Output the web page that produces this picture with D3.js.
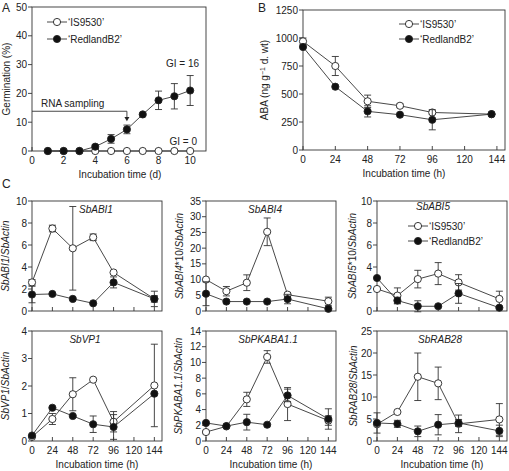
<!DOCTYPE html>
<html><head><meta charset="utf-8">
<script src="https://cdn.jsdelivr.net/npm/d3@7"></script>
<style>body{margin:0;background:#fff}svg{display:block}text{font-family:"Liberation Sans",Arial,sans-serif;fill:#222}</style>
</head><body><svg id="c" width="509" height="471"></svg>
<script>
// ---------- Data ----------
const seriesNames = ["\u2018IS9530\u2019", "\u2018RedlandB2\u2019"];
// Panel A: germination (%)
const aDays = [1,2,3,4,5,6,7,8,9,10];
const aIS9530 = [0,0,0,0,0,0,0,0,0,0];
const aRedland = [0,0,0,1.5,4.2,7.5,12.7,17.6,19,21];
const aRedlandErr = [0,0,0,0.6,1.5,1.5,0.4,3.2,4.4,5.2];
const aXTicks = [0,2,4,6,8,10];
const aYTicks = [0,10,20,30,40,50];
// Panel B: ABA content
const bHours = [0,24,48,72,96,140];
const bIS9530 = [970,750,435,395,335,320];
const bIS9530Err = [30,85,55,15,15,0];
const bRedland = [920,565,345,315,270,320];
const bRedlandErr = [0,0,50,0,90,0];
const bXTicks = [0,24,48,72,96,120,144];
const bYTicks = [0,250,500,750,1000,1250];
// Panel C: relative expression
const cHours = [0,24,48,72,96,144];
const cXTicks = [0,24,48,72,96,120,144];
const abi1Open = [2.6,7.5,5.7,6.7,3.5,1.1], abi1OpenErr = [0.25,0.3,3.8,0.3,0,0.3];
const abi1Filled = [1.5,1.55,1.1,0.7,2.6,1.1], abi1FilledErr = [0.75,0,0,0,0.5,0.7];
const abi4Open = [10,6.3,9.0,25.2,5.2,3.1], abi4OpenErr = [0,1.5,2.5,4.4,0,1.3];
const abi4Filled = [5.5,3.0,3.0,3.0,3.8,0.7], abi4FilledErr = [3.8,0.5,0,0,1.5,0];
const abi5Open = [2.0,1.4,2.9,3.4,2.6,1.1], abi5OpenErr = [0,0.7,0.8,1.0,0.7,0.7];
const abi5Filled = [3.0,0.95,0.43,0.43,1.6,0.3], abi5FilledErr = [0,0.3,0.5,0,0.9,0];
const vp1Open = [0.15,0.8,1.7,2.23,0.7,2.02], vp1OpenErr = [0,0.2,0.6,0,0.37,1.5];
const vp1Filled = [0.2,1.21,0.91,0.61,0.51,1.72], vp1FilledErr = [0,0,0,0.3,0.45,0];
const pkOpen = [1.14,1.86,5.3,10.7,4.7,2.6], pkOpenErr = [0.2,0,0.9,0.8,2.1,0.6];
const pkFilled = [2.3,1.9,2.4,2.07,5.8,2.8], pkFilledErr = [0,0,1.0,0,0.8,1.3];
const rabOpen = [3.8,6.6,14.6,13.1,3.9,4.9], rabOpenErr = [0,0,5.4,3.7,2.0,3.6];
const rabFilled = [4.1,3.9,2.2,3.7,4.1,2.3], rabFilledErr = [2.3,0.8,1.2,2.3,0.8,1.3];

const svg = d3.select("#c");
const FS = 10;

function frame(x, y, xTicks, yTicks, opts) {
  const g = svg.append("g");
  const [x0, x1] = x.range(), [y0, y1] = y.range();
  g.append("rect").attr("x", x0).attr("y", y1).attr("width", x1 - x0).attr("height", y0 - y1)
    .attr("fill", "none").attr("stroke", "#333").attr("stroke-width", 0.9);
  (opts.xMinor || xTicks).forEach(t => {
    g.append("line").attr("x1", x(t)).attr("x2", x(t)).attr("y1", y0).attr("y2", y0 - 4)
      .attr("stroke", "#333").attr("stroke-width", 0.9);
  });
  if (opts.xLabels !== false) {
    xTicks.forEach(t => {
      g.append("text").attr("x", x(t)).attr("y", y0 + 13).attr("text-anchor", "middle")
        .attr("font-size", FS).text(t);
    });
  }
  yTicks.forEach(t => {
    g.append("line").attr("x1", x0).attr("x2", x0 - 4).attr("y1", y(t)).attr("y2", y(t))
      .attr("stroke", "#333").attr("stroke-width", 0.9);
    g.append("text").attr("x", x0 - 5).attr("y", y(t) + 3.6).attr("text-anchor", "end")
      .attr("font-size", FS).text(t);
  });
  if (opts.xTitle) {
    g.append("text").attr("x", opts.xTitleX || (x0 + x1) / 2).attr("y", y0 + 27)
      .attr("text-anchor", "middle").attr("font-size", FS).text(opts.xTitle);
  }
  return g;
}

function yTitle(parts, cx, cy) {
  const t = svg.append("text").attr("transform", `translate(${cx},${cy}) rotate(-90)`)
    .attr("text-anchor", "middle").attr("font-size", FS);
  parts.forEach(p => {
    const s = t.append("tspan").text(p.t);
    if (p.i) s.attr("font-style", "italic");
    if (p.sup) s.attr("baseline-shift", "super").attr("font-size", 7);
  });
}

function series(x, y, xs, vals, errs, filled) {
  const g = svg.append("g");
  const line = d3.line().x((d, i) => x(xs[i])).y(d => y(d));
  g.append("path").attr("d", line(vals)).attr("fill", "none").attr("stroke", "#333").attr("stroke-width", 0.9);
  vals.forEach((v, i) => {
    const e = errs ? errs[i] : 0;
    if (e > 0) {
      const cx = x(xs[i]);
      g.append("line").attr("x1", cx).attr("x2", cx).attr("y1", y(v - e)).attr("y2", y(v + e))
        .attr("stroke", "#333").attr("stroke-width", 0.9);
      [v - e, v + e].forEach(w => g.append("line").attr("x1", cx - 3.5).attr("x2", cx + 3.5)
        .attr("y1", y(w)).attr("y2", y(w)).attr("stroke", "#333").attr("stroke-width", 0.9));
    }
  });
  vals.forEach((v, i) => {
    g.append("circle").attr("cx", x(xs[i])).attr("cy", y(v)).attr("r", 3.6)
      .attr("fill", filled ? "#111" : "#fff").attr("stroke", "#222").attr("stroke-width", 0.9);
  });
}

function legend(xm, ys) {
  [false, true].forEach((f, i) => {
    const yy = ys[i];
    svg.append("line").attr("x1", xm - 10).attr("x2", xm + 10).attr("y1", yy).attr("y2", yy)
      .attr("stroke", "#333").attr("stroke-width", 0.9);
    svg.append("circle").attr("cx", xm).attr("cy", yy).attr("r", 3.6)
      .attr("fill", f ? "#111" : "#fff").attr("stroke", "#222").attr("stroke-width", 0.9);
    svg.append("text").attr("x", xm + 11).attr("y", yy + 3.6).attr("font-size", FS).text(seriesNames[i]);
  });
}

function panelLetter(t, x, y) {
  svg.append("text").attr("x", x).attr("y", y).attr("font-size", 12).text(t);
}

// ---------- Panel A ----------
{
  const x = d3.scaleLinear([0, 11], [32, 206]);
  const y = d3.scaleLinear([0, 50], [151, 7]);
  frame(x, y, aXTicks, aYTicks, { xMinor: d3.range(0, 11), xTitle: "Incubation time (d)", xTitleX: 120 });
  yTitle([{ t: "Germination (%)" }], 10, 79);
  svg.append("path").attr("d", `M${x(0)},${y(13.8)}H${x(6)}V${y(11.5)}`)
    .attr("fill", "none").attr("stroke", "#333").attr("stroke-width", 0.9);
  svg.append("path").attr("d", `M${x(6) - 2.5},${y(11.8)}L${x(6) + 2.5},${y(11.8)}L${x(6)},${y(10.3)}Z`).attr("fill", "#222");
  svg.append("text").attr("x", 41).attr("y", y(15.3)).attr("font-size", FS).text("RNA sampling");
  series(x, y, aDays, aIS9530, null, false);
  series(x, y, aDays, aRedland, aRedlandErr, true);
  svg.append("text").attr("x", 199).attr("y", y(30.5) + 4).attr("text-anchor", "end").attr("font-size", FS).text("GI = 16");
  svg.append("text").attr("x", 197).attr("y", y(3.5) + 4).attr("text-anchor", "end").attr("font-size", FS).text("GI = 0");
  legend(57, [22, 39]);
  panelLetter("A", 2, 12);
}

// ---------- Panel B ----------
{
  const x = d3.scaleLinear([0, 150], [303, 505]);
  const y = d3.scaleLinear([0, 1250], [150, 10]);
  frame(x, y, bXTicks, bYTicks, { xTitle: "Incubation time (h)" });
  yTitle([{ t: "ABA (ng g" }, { t: "\u22121", sup: true }, { t: " d. wt)" }], 268, 80);
  series(x, y, bHours, bIS9530, bIS9530Err, false);
  series(x, y, bHours, bRedland, bRedlandErr, true);
  legend(409, [24, 39]);
  panelLetter("B", 258, 12);
}

// ---------- Panel C ----------
panelLetter("C", 2, 188);
const cPanels = [
  { L: 32, top: 201, bot: 311, max: 10, ticks: [0,2,4,6,8,10], open: abi1Open, oe: abi1OpenErr, fil: abi1Filled, fe: abi1FilledErr,
    gene: "SbABI1", gx: 79, anchor: "start", ylab: [{t:"SbABI1",i:1},{t:"/"},{t:"SbActin",i:1}], yx: 9 },
  { L: 206, top: 201, bot: 311, max: 35, ticks: [0,5,10,15,20,25,30,35], open: abi4Open, oe: abi4OpenErr, fil: abi4Filled, fe: abi4FilledErr,
    gene: "SbABI4", gx: 265, ylab: [{t:"SbABI4",i:1},{t:"*10/"},{t:"SbActin",i:1}], yx: 183 },
  { L: 377, top: 201, bot: 311, max: 10, ticks: [0,2,4,6,8,10], open: abi5Open, oe: abi5OpenErr, fil: abi5Filled, fe: abi5FilledErr,
    gene: "SbABI5", gx: 433, ylab: [{t:"SbABI5",i:1},{t:"*10/"},{t:"SbActin",i:1}], yx: 356, leg: true },
  { L: 32, top: 331, bot: 441, max: 4, ticks: [0,1,2,3,4], open: vp1Open, oe: vp1OpenErr, fil: vp1Filled, fe: vp1FilledErr,
    gene: "SbVP1", gx: 85, ylab: [{t:"SbVP1",i:1},{t:"/"},{t:"SbActin",i:1}], yx: 9, bottom: true },
  { L: 206, top: 331, bot: 441, max: 14, ticks: [0,2,4,6,8,10,12,14], open: pkOpen, oe: pkOpenErr, fil: pkFilled, fe: pkFilledErr,
    gene: "SbPKABA1.1", gx: 268, ylab: [{t:"SbPKABA1.1",i:1},{t:"/"},{t:"SbActin",i:1}], yx: 182, bottom: true },
  { L: 377, top: 331, bot: 441, max: 25, ticks: [0,5,10,15,20,25], open: rabOpen, oe: rabOpenErr, fil: rabFilled, fe: rabFilledErr,
    gene: "SbRAB28", gx: 440, ylab: [{t:"SbRAB28",i:1},{t:"/"},{t:"SbActin",i:1}], yx: 357, bottom: true }
];
cPanels.forEach(p => {
  const x = d3.scaleLinear([0, 153], [p.L, p.L + 130]);
  const y = d3.scaleLinear([0, p.max], [p.bot, p.top]);
  frame(x, y, cXTicks, p.ticks, { xLabels: !!p.bottom, xTitle: p.bottom ? "Incubation time (h)" : null });
  yTitle(p.ylab, p.yx, (p.top + p.bot) / 2);
  series(x, y, cHours, p.open, p.oe, false);
  series(x, y, cHours, p.fil, p.fe, true);
  svg.append("text").attr("x", p.gx).attr("y", p.top + (p.leg ? 9 : 12)).attr("text-anchor", p.anchor || "middle")
    .attr("font-size", FS).attr("font-style", "italic").text(p.gene);
  if (p.leg) legend(418, [p.top + 25, p.top + 40]);
});
</script></body></html>
